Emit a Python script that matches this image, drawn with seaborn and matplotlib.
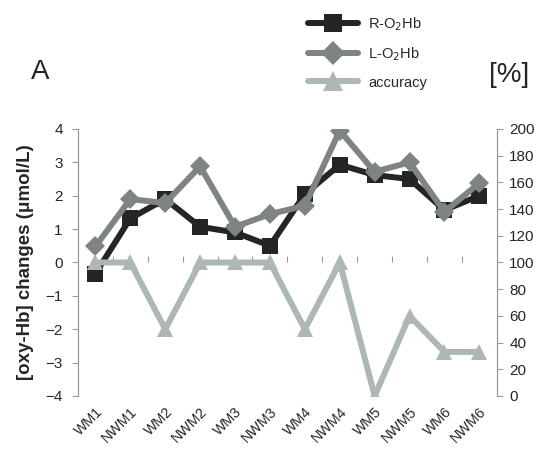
import matplotlib
matplotlib.use("Agg")
import matplotlib.pyplot as plt
import seaborn as sns
import pandas as pd

sessions = ["WM1", "NWM1", "WM2", "NWM2", "WM3", "NWM3",
            "WM4", "NWM4", "WM5", "NWM5", "WM6", "NWM6"]
r_o2hb = [-0.33, 1.32, 1.9, 1.07, 0.9, 0.5, 2.05, 2.93, 2.62, 2.5, 1.57, 2.0]
l_o2hb = [0.48, 1.9, 1.78, 2.88, 1.07, 1.45, 1.7, 3.95, 2.72, 3.0, 1.52, 2.38]
accuracy = [100, 100, 50, 100, 100, 100, 50, 100, 0, 60, 33, 33]

left_ticks = [-4, -3, -2, -1, 0, 1, 2, 3, 4]
right_ticks = [0, 20, 40, 60, 80, 100, 120, 140, 160, 180, 200]

df = pd.DataFrame({"session": sessions, "R": r_o2hb, "L": l_o2hb, "acc": accuracy})

sns.set_style("white")
plt.rcParams["font.family"] = ["Liberation Sans", "DejaVu Sans"]

C_R = "#252525"
C_L = "#7e8482"
C_A = "#adb7b4"
C_AX = "#9a9a9a"
LW = 4.3

fig = plt.figure(figsize=(5.39, 4.55), dpi=100)
ax = fig.add_axes([0.1447, 0.1297, 0.777, 0.5868])
ax2 = ax.twinx()

sns.lineplot(data=df, x="session", y="R", ax=ax, color=C_R, lw=LW,
             marker="s", markersize=11, markeredgewidth=0,
             zorder=4, sort=False, legend=False)
sns.lineplot(data=df, x="session", y="L", ax=ax, color=C_L, lw=LW,
             marker="D", markersize=10.5, markeredgewidth=0,
             zorder=5, sort=False, legend=False)
sns.lineplot(data=df, x="session", y="acc", ax=ax2, color=C_A, lw=LW,
             marker="^", markersize=12, markeredgewidth=0,
             zorder=3, sort=False, legend=False)

ax.set_xlim(-0.5, len(sessions) - 0.5)
ax.set_ylim(-4, 4)
ax2.set_ylim(0, 200)
ax.set_yticks(left_ticks)
ax2.set_yticks(right_ticks)
ax.set_xticks(range(len(sessions)))
ax.set_xticklabels(sessions, rotation=45, ha="right", rotation_mode="anchor",
                   fontsize=10.3)
ax.tick_params(axis="x", length=0, pad=6)
ax.tick_params(axis="y", labelsize=11, length=4, color=C_AX, width=0.8, pad=7)
ax2.tick_params(axis="y", labelsize=11, length=4, color=C_AX, width=0.8, pad=5)
ax.set_xlabel("")
ax.set_ylabel("[oxy-Hb] changes (\u03bcmol/L)", fontsize=13.5, fontweight="bold",
              labelpad=8)
ax2.set_ylabel("")

for a in (ax, ax2):
    for side in ("top", "bottom"):
        a.spines[side].set_visible(False)
    for side in ("left", "right"):
        a.spines[side].set_color(C_AX)
        a.spines[side].set_linewidth(0.9)
ax.spines["right"].set_visible(False)
ax2.spines["left"].set_visible(False)

# category axis crossing at zero, with ticks between categories
zero_axis = ax.secondary_xaxis(0.5)
zero_axis.set_xticks([i + 0.5 for i in range(len(sessions) - 1)])
zero_axis.set_xticklabels([])
zero_axis.tick_params(length=4, color=C_AX, width=0.8)
zero_axis.spines["bottom"].set_color(C_AX)
zero_axis.spines["bottom"].set_linewidth(1.0)
for side in ("top", "left", "right"):
    zero_axis.spines[side].set_visible(False)

handles = ax.get_lines()[:2] + ax2.get_lines()[:1]
labels = ["R-O$_2$Hb", "L-O$_2$Hb", "accuracy"]
fig.legend(handles, labels, loc="upper left", bbox_to_anchor=(0.547, 0.995),
           frameon=False, fontsize=10.5, handlelength=3.4, labelspacing=0.85,
           handletextpad=0.75, markerscale=1.2)

fig.text(40 / 539, 1 - 72 / 455, "A", fontsize=20, ha="center", va="center")
fig.text(509 / 539, 1 - 75 / 455, "[%]", fontsize=20, ha="center", va="center")

fig.savefig("out.png", dpi=100)
